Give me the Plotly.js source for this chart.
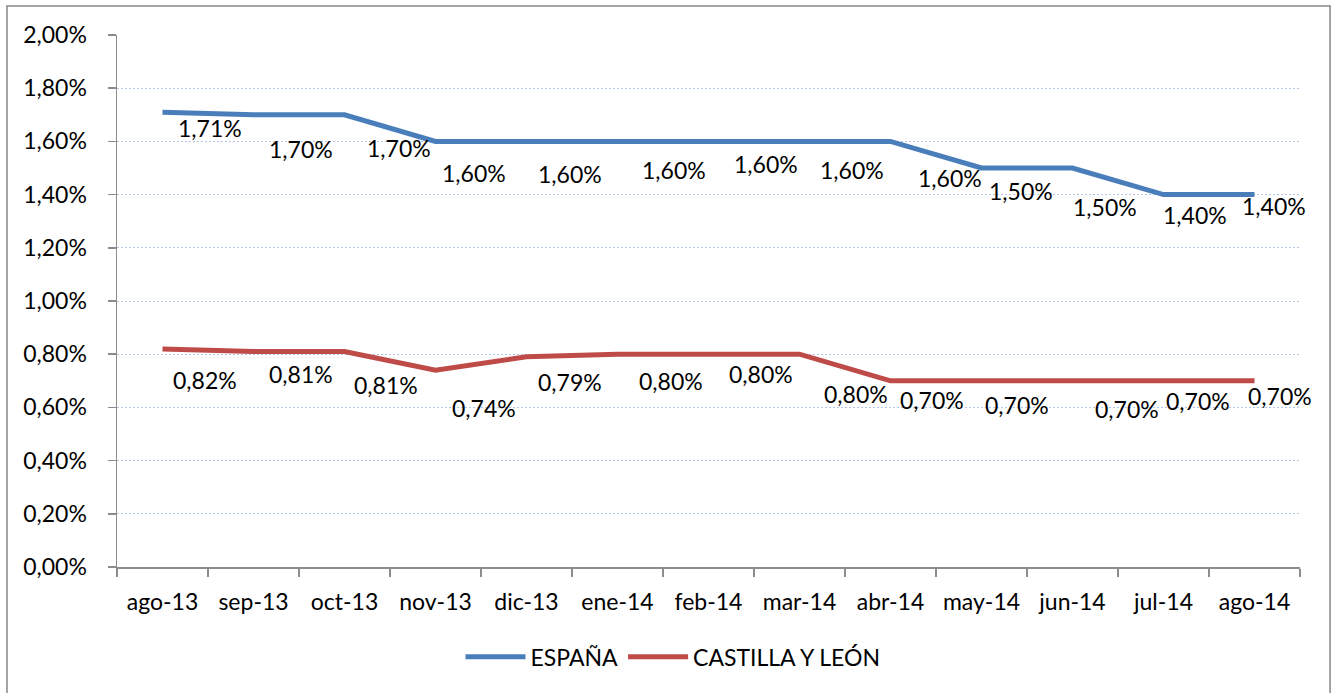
<!DOCTYPE html>
<html>
<head>
<meta charset="utf-8">
<script src="https://cdn.plot.ly/plotly-3.0.1.min.js"></script>
<style>
html,body{margin:0;padding:0;background:#fff;}
#chart{width:1336px;height:693px;}
</style>
</head>
<body>
<div id="chart"></div>
<script>
const months = ["ago-13","sep-13","oct-13","nov-13","dic-13","ene-14","feb-14","mar-14","abr-14","may-14","jun-14","jul-14","ago-14"];
const espana = [1.71,1.70,1.70,1.60,1.60,1.60,1.60,1.60,1.60,1.50,1.50,1.40,1.40];
const castilla = [0.82,0.81,0.81,0.74,0.79,0.80,0.80,0.80,0.70,0.70,0.70,0.70,0.70];
const seriesNames = ["ESPAÑA","CASTILLA Y LEÓN"];

// label offsets (pixels) - style only
const espShiftX = [47,47,54,38,43,56,57,52,59,39,32,31,19];
const espShiftY = [-16,-34,-33,-32,-33,-29,-23,-29,-37,-23,-39,-20,-11];
const casShiftX = [42,47,41,48,43,53,52,56,41,35,54,34,25];
const casShiftY = [-31,-22,-33,-38,-25,-27,-20,-40,-19,-24,-28,-20,-15];

const fontFam = "Lato, 'Open Sans', sans-serif";
const fmt = v => v.toFixed(2).replace('.', ',') + '%';

const traces = [
  {x: months, y: espana.map(v => v/100), name: seriesNames[0], type: 'scatter', mode: 'lines',
   line: {color: '#4a7ebb', width: 5}},
  {x: months, y: castilla.map(v => v/100), name: seriesNames[1], type: 'scatter', mode: 'lines',
   line: {color: '#be4b48', width: 5}}
];

const annotations = [];
espana.forEach((v, i) => annotations.push({x: months[i], y: v/100, text: fmt(v), showarrow: false,
  xshift: espShiftX[i], yshift: espShiftY[i], font: {family: fontFam, size: 23, color: '#000'}}));
castilla.forEach((v, i) => annotations.push({x: months[i], y: v/100, text: fmt(v), showarrow: false,
  xshift: casShiftX[i], yshift: casShiftY[i], font: {family: fontFam, size: 23, color: '#000'}}));

const layout = {
  width: 1336, height: 693,
  margin: {l: 117, r: 36, t: 35, b: 126},
  paper_bgcolor: '#fff', plot_bgcolor: '#fff',
  separators: ',.',
  font: {family: fontFam, size: 23, color: '#000'},
  showlegend: true,
  legend: {orientation: 'h', x: 0.47, xanchor: 'center', y: -0.169, yanchor: 'middle',
    font: {family: fontFam, size: 23, color: '#000'}, itemwidth: 60, traceorder: 'normal'},
  xaxis: {type: 'category', range: [-0.5, 12.5], showgrid: false, showline: true, linecolor: '#8c8c8c', linewidth: 1.5,
    ticks: 'outside', tickson: 'boundaries', ticklen: 8, tickcolor: '#8c8c8c', tickwidth: 1.5,
    ticklabelstandoff: 14, zeroline: false, fixedrange: true},
  yaxis: {range: [0, 0.02], dtick: 0.002, tick0: 0, tickformat: '.2%', showgrid: true, gridcolor: '#b3c6ea',
    griddash: '2px,2px', gridwidth: 1, showline: true, linecolor: '#8c8c8c', linewidth: 1.5,
    ticks: 'outside', ticklen: 8, tickcolor: '#8c8c8c', tickwidth: 1.5, ticklabelstandoff: 16, zeroline: false, fixedrange: true},
  annotations: annotations,
  shapes: [{type: 'rect', xref: 'paper', yref: 'paper', x0: -0.093, x1: 1.0254, y0: -0.26, y1: 1.0545,
    line: {color: '#868686', width: 1.5}, fillcolor: 'rgba(0,0,0,0)', layer: 'below'}]
};

Plotly.newPlot('chart', traces, layout, {displayModeBar: false, staticPlot: true});
</script>
</body>
</html>
